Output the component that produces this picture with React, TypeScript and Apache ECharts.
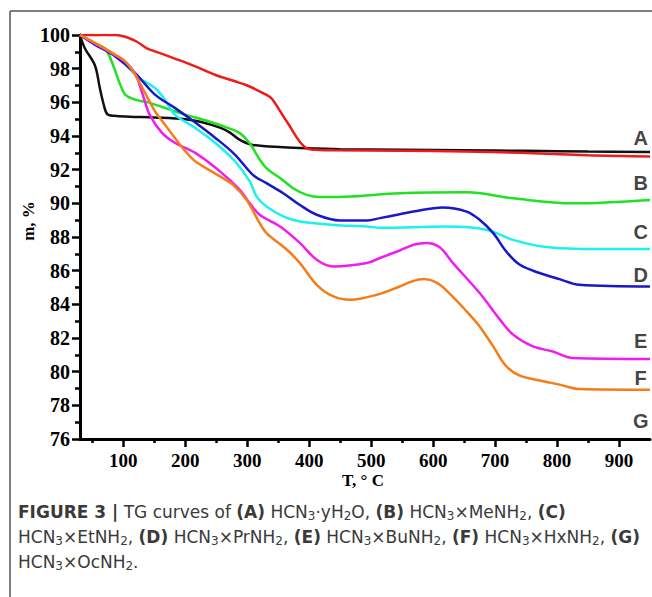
import React, { useEffect, useRef } from "react";
import * as echarts from "echarts";

// ---- Data ----
const tA = [30, 38, 54, 62, 68, 74, 85, 110, 150, 200, 224, 256, 272, 288, 309, 358, 396, 450, 550, 650, 750, 850, 950];
const mA = [100, 99.2, 98.2, 96.85, 95.9, 95.3, 95.2, 95.15, 95.1, 95.0, 94.85, 94.5, 94.2, 93.77, 93.47, 93.33, 93.27, 93.22, 93.18, 93.15, 93.12, 93.08, 93.05];

const tRed = [30, 60, 87, 103, 122, 138, 151, 183, 216, 248, 280, 300, 331, 340, 364, 396, 417, 439, 546, 650, 740, 850, 950];
const mRed = [100, 100, 100, 99.9, 99.6, 99.2, 99.03, 98.6, 98.14, 97.64, 97.25, 97.0, 96.44, 96.2, 94.85, 93.27, 93.17, 93.15, 93.13, 93.08, 93.0, 92.85, 92.78];

const tGreen = [30, 54, 70, 78, 87, 95, 103, 119, 140, 167, 200, 237, 269, 288, 304, 317, 331, 353, 374, 396, 417, 466, 546, 654, 729, 826, 950];
const mGreen = [100, 99.5, 99.2, 98.7, 97.85, 97.05, 96.46, 96.16, 96.0, 95.67, 95.27, 94.88, 94.48, 94.17, 93.57, 92.78, 92.09, 91.5, 90.9, 90.5, 90.37, 90.4, 90.6, 90.66, 90.3, 90.0, 90.2];

const tCyan = [30, 60, 90, 124, 151, 167, 183, 216, 248, 280, 304, 315, 331, 358, 385, 439, 493, 514, 621, 686, 729, 783, 864, 950];
const mCyan = [100, 99.4, 98.7, 97.49, 96.85, 96.16, 95.27, 94.48, 93.6, 92.5, 91.3, 90.4, 89.81, 89.22, 88.92, 88.72, 88.62, 88.55, 88.62, 88.43, 87.83, 87.4, 87.28, 87.28];

const tBlue = [30, 54, 87, 119, 151, 183, 216, 248, 280, 309, 331, 358, 385, 412, 450, 493, 514, 546, 568, 615, 654, 675, 697, 718, 740, 772, 804, 836, 950];
const mBlue = [100, 99.43, 98.73, 97.74, 96.46, 95.67, 94.8, 93.9, 92.9, 91.69, 91.2, 90.6, 89.9, 89.32, 88.98, 88.98, 89.12, 89.35, 89.51, 89.75, 89.51, 89.02, 88.23, 87.14, 86.35, 85.86, 85.5, 85.16, 85.06];

const tMagenta = [30, 54, 87, 103, 119, 130, 142, 162, 183, 216, 256, 288, 304, 320, 353, 385, 412, 439, 493, 514, 546, 570, 589, 610, 632, 675, 708, 729, 761, 793, 825, 950];
const mMagenta = [100, 99.5, 98.8, 98.4, 97.7, 96.6, 95.3, 94.2, 93.6, 93.0, 91.9, 90.8, 90.0, 89.32, 88.62, 87.64, 86.65, 86.25, 86.45, 86.75, 87.2, 87.55, 87.65, 87.4, 86.45, 84.67, 83.09, 82.2, 81.5, 81.2, 80.81, 80.75];

const tOrange = [30, 54, 87, 103, 119, 135, 151, 167, 183, 200, 216, 256, 277, 299, 320, 331, 364, 385, 412, 439, 466, 509, 546, 565, 585, 605, 625, 654, 675, 697, 718, 740, 772, 804, 836, 950];
const mOrange = [100, 99.53, 98.83, 98.44, 97.64, 96.56, 95.47, 94.68, 93.89, 93.1, 92.5, 91.6, 91.1, 90.2, 88.82, 88.23, 87.24, 86.45, 85.16, 84.47, 84.27, 84.57, 85.06, 85.35, 85.5, 85.3, 84.7, 83.58, 82.69, 81.5, 80.32, 79.76, 79.48, 79.23, 78.97, 78.93];

const xTickValues = [100, 200, 300, 400, 500, 600, 700, 800, 900];
const xMinorValues = [50, 150, 250, 350, 450, 550, 650, 750, 850];

const curveLetters = ["A", "B", "C", "D", "E", "F", "G"];
const letterT = [935, 935, 935, 935, 935, 935, 935];
const letterM = [93.9, 91.2, 88.3, 85.75, 81.8, 79.6, 77.05];

const zip = (t: number[], m: number[]) => t.map((v, i) => [v, m[i]]);

const SERIES = [
  { name: "A", t: tA, m: mA, color: "#111111" },
  { name: "red", t: tRed, m: mRed, color: "#ee1b1b" },
  { name: "green", t: tGreen, m: mGreen, color: "#22e022" },
  { name: "cyan", t: tCyan, m: mCyan, color: "#1ef0f0" },
  { name: "blue", t: tBlue, m: mBlue, color: "#1818c8" },
  { name: "magenta", t: tMagenta, m: mMagenta, color: "#f01cf0" },
  { name: "orange", t: tOrange, m: mOrange, color: "#f57d18" },
];

const serif = "'Liberation Serif', 'Times New Roman', serif";
const sans = "'Liberation Sans', Arial, sans-serif";
const capFont = "'DejaVu Sans', 'Liberation Sans', sans-serif";

const capStyle = {
  fontFamily: capFont,
  fontSize: 17,
  fill: "#3a3a3a",
};
const capRich = {
  b: { fontFamily: capFont, fontSize: 17, fontWeight: "bold", fill: "#3a3a3a" },
  s: { fontFamily: capFont, fontSize: 12, fill: "#3a3a3a", padding: [8, 0, 0, 0] },
};

export default function App() {
  const ref = useRef<HTMLDivElement>(null);
  useEffect(() => {
    document.body.style.margin = "0";
    if (!ref.current) return;
    const chart = echarts.init(ref.current, null, { renderer: "svg" });
    const option: any = {
      animation: false,
      backgroundColor: "#ffffff",
      grid: { left: 80, top: 35, width: 570, height: 404, containLabel: false },
      xAxis: [
        {
          type: "value",
          min: 30,
          max: 950,
          position: "bottom",
          axisLine: { show: true, onZero: false, lineStyle: { color: "#000", width: 3 } },
          axisTick: { show: true, customValues: xTickValues, length: 8, lineStyle: { color: "#000", width: 2.5 } },
          axisLabel: {
            customValues: xTickValues,
            margin: 12,
            fontFamily: serif,
            fontWeight: "bold",
            fontSize: 19,
            color: "#000",
          },
          splitLine: { show: false },
        },
        {
          type: "value",
          min: 30,
          max: 950,
          position: "bottom",
          offset: 0,
          axisLine: { show: false, onZero: false },
          axisTick: { show: true, customValues: xMinorValues, length: 4, lineStyle: { color: "#000", width: 2.5 } },
          axisLabel: { show: false },
          splitLine: { show: false },
        },
      ],
      yAxis: {
        type: "value",
        min: 76,
        max: 100,
        interval: 2,
        axisLine: { show: true, onZero: false, lineStyle: { color: "#000", width: 3 } },
        axisTick: { show: true, length: 8, lineStyle: { color: "#000", width: 2.5 } },
        minorTick: { show: true, splitNumber: 2, length: 5, lineStyle: { color: "#000", width: 2.5 } },
        axisLabel: { margin: 10, fontFamily: serif, fontWeight: "bold", fontSize: 20, color: "#000" },
        splitLine: { show: false },
      },
      series: [
        ...SERIES.map((s) => ({
          type: "line",
          name: s.name,
          data: zip(s.t, s.m),
          showSymbol: false,
          smooth: 0.35,
          lineStyle: { color: s.color, width: 2.5 },
          itemStyle: { color: s.color },
          z: 3,
        })),
        {
          type: "scatter",
          name: "letters",
          symbolSize: 0,
          data: curveLetters.map((l, i) => ({ value: [letterT[i], letterM[i]], name: l })),
          label: {
            show: true,
            position: "inside",
            formatter: (p: any) => p.name,
            fontFamily: sans,
            fontWeight: "bold",
            fontSize: 20,
            color: "#111",
          },
          z: 5,
        },
      ],
      graphic: [
        { type: "line", shape: { x1: 10, y1: 11, x2: 652, y2: 11 }, style: { stroke: "#555", lineWidth: 1.5 } },
        { type: "line", shape: { x1: 10, y1: 11, x2: 10, y2: 597 }, style: { stroke: "#555", lineWidth: 1.5 } },
        {
          type: "text",
          x: 363,
          y: 480,
          style: { text: "T, ° C", fontFamily: serif, fontWeight: "bold", fontSize: 17, fill: "#000", align: "center", verticalAlign: "middle" },
        },
        {
          type: "text",
          x: 28,
          y: 221,
          rotation: Math.PI / 2,
          style: { text: "m, %", fontFamily: serif, fontWeight: "bold", fontSize: 17, fill: "#000", align: "center", verticalAlign: "middle" },
        },
        {
          type: "text",
          x: 18,
          y: 512,
          style: {
            ...capStyle,
            text: "{b|FIGURE 3 |} TG curves of {b|(A)} HCN{s|3}·yH{s|2}O, {b|(B)} HCN{s|3}×MeNH{s|2}, {b|(C)}",
            rich: capRich,
            verticalAlign: "middle",
          },
        },
        {
          type: "text",
          x: 18,
          y: 537,
          style: {
            ...capStyle,
            text: "HCN{s|3}×EtNH{s|2}, {b|(D)} HCN{s|3}×PrNH{s|2}, {b|(E)} HCN{s|3}×BuNH{s|2}, {b|(F)} HCN{s|3}×HxNH{s|2}, {b|(G)}",
            rich: capRich,
            verticalAlign: "middle",
          },
        },
        {
          type: "text",
          x: 18,
          y: 562,
          style: {
            ...capStyle,
            text: "HCN{s|3}×OcNH{s|2}.",
            rich: capRich,
            verticalAlign: "middle",
          },
        },
      ],
    };
    chart.setOption(option);
    return () => chart.dispose();
  }, []);
  return <div ref={ref} style={{ width: 652, height: 597 }} />;
}
